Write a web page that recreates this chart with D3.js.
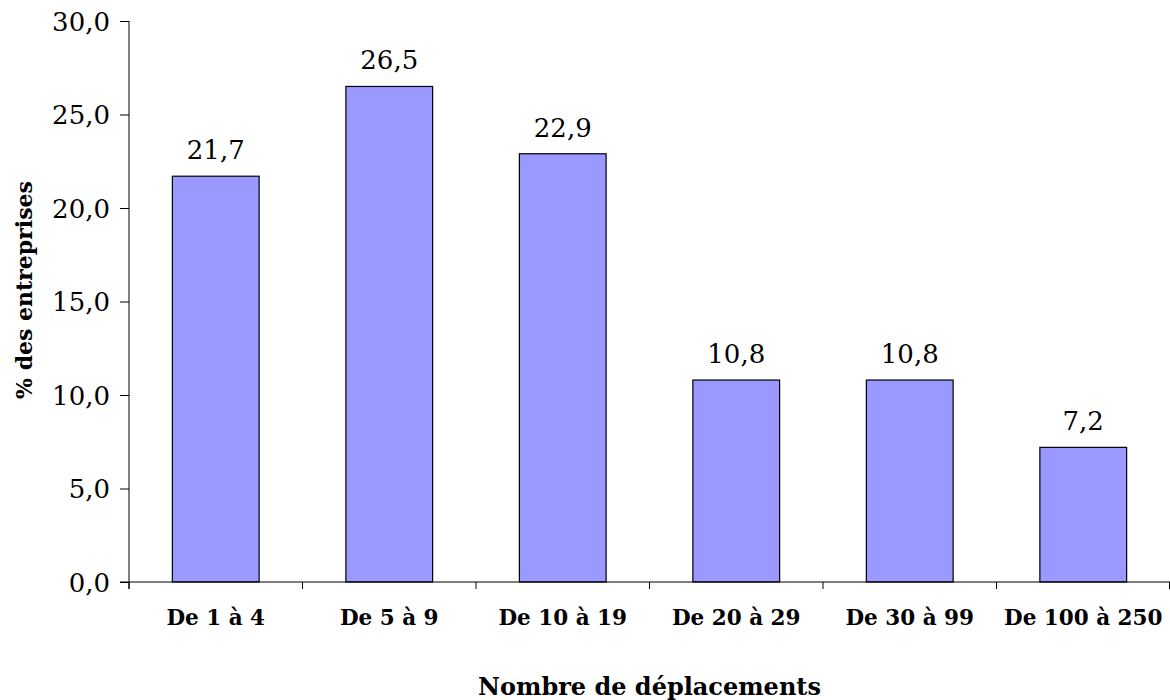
<!DOCTYPE html>
<html>
<head>
<meta charset="utf-8">
<script src="https://cdn.jsdelivr.net/npm/d3@7"></script>
<style>
  html, body { margin: 0; padding: 0; background: #fff; }
  svg { display: block; }
  text { font-family: "DejaVu Serif", "Liberation Serif", serif; fill: #000; }
</style>
</head>
<body>
<svg id="chart" width="1170" height="700"></svg>
<script>
// Share of companies by number of trips
const categories = ["De 1 à 4", "De 5 à 9", "De 10 à 19", "De 20 à 29", "De 30 à 99", "De 100 à 250"];
const values = [21.7, 26.5, 22.9, 10.8, 10.8, 7.2];
const yTicks = [0, 5, 10, 15, 20, 25, 30];
const yTitle = "% des entreprises";
const xTitle = "Nombre de déplacements";

const svg = d3.select("#chart");
const plotLeft = 129, plotRight = 1170, plotTop = 21, plotBottom = 582;

const fmt = v => d3.format(".1f")(v).replace(".", ",");

const x = d3.scaleBand().domain(categories).range([plotLeft, plotRight]).paddingInner(0.5).paddingOuter(0.25);
const xb = d3.scaleBand().domain(categories).range([plotLeft, plotRight]);
const y = d3.scaleLinear().domain([0, 30]).range([plotBottom, plotTop]);

// y axis
const yAxis = svg.append("g")
  .attr("transform", `translate(${plotLeft},0)`)
  .call(d3.axisLeft(y).tickValues(yTicks).tickFormat(fmt).tickSize(9).tickPadding(10));
yAxis.select(".domain").attr("stroke", "#000").attr("stroke-width", 1).attr("d", `M0,${plotTop}V${plotBottom + 7}`);
yAxis.selectAll(".tick line").attr("stroke", "#000");
yAxis.selectAll(".tick text").style("font-size", "26px").attr("dy", "0.36em");

// bars
svg.append("g").selectAll("rect")
  .data(values)
  .join("rect")
  .attr("x", (d, i) => x(categories[i]))
  .attr("width", x.bandwidth())
  .attr("y", d => y(d))
  .attr("height", d => y(0) - y(d))
  .attr("fill", "#9999FF")
  .attr("stroke", "#000")
  .attr("stroke-width", 1.2);

// x axis with ticks at category boundaries
const xg = svg.append("g");
xg.append("line").attr("x1", plotLeft - 9).attr("x2", plotRight).attr("y1", plotBottom).attr("y2", plotBottom)
  .attr("stroke", "#000").attr("stroke-width", 1.2);
const boundaries = categories.map(c => xb(c)).concat([plotRight - 0.5]);
xg.selectAll(".xt").data(boundaries).join("line")
  .attr("class", "xt")
  .attr("x1", d => d).attr("x2", d => d)
  .attr("y1", plotBottom).attr("y2", plotBottom + 7)
  .attr("stroke", "#000");
xg.selectAll(".xl").data(categories).join("text")
  .attr("class", "xl")
  .attr("x", d => xb(d) + xb.bandwidth() / 2)
  .attr("y", 625)
  .attr("text-anchor", "middle")
  .style("font-size", "21.5px")
  .style("font-weight", "bold")
  .text(d => d);

// value labels
svg.append("g").selectAll("text")
  .data(values)
  .join("text")
  .attr("x", (d, i) => x(categories[i]) + x.bandwidth() / 2)
  .attr("y", d => y(d) - 17)
  .attr("text-anchor", "middle")
  .style("font-size", "26px")
  .text(d => fmt(d));

// axis titles
svg.append("text")
  .attr("x", (plotLeft + plotRight) / 2)
  .attr("y", 695)
  .attr("text-anchor", "middle")
  .style("font-size", "24px")
  .style("font-weight", "bold")
  .text(xTitle);

svg.append("text")
  .attr("transform", `translate(32,290) rotate(-90)`)
  .attr("text-anchor", "middle")
  .style("font-size", "22px")
  .style("font-weight", "bold")
  .text(yTitle);
</script>
</body>
</html>
